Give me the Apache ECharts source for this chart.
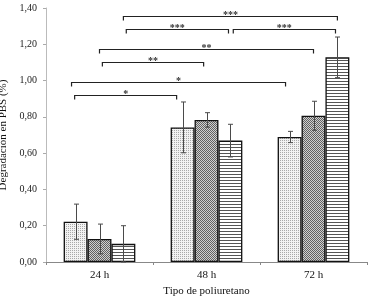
<!DOCTYPE html>
<html>
<head>
<meta charset="utf-8">
<script src="https://cdn.jsdelivr.net/npm/echarts@6/dist/echarts.min.js"></script>
<style>
html, body { margin: 0; padding: 0; background: #fff; }
#container { width: 371px; height: 300px; }
</style>
</head>
<body>
<div id="container"></div>
<script>
// datos
var categories = ['24 h', '48 h', '72 h'];
var serieA = [0.222, 0.742, 0.689];
var errA = [0.097, 0.140, 0.031];
var serieB = [0.127, 0.783, 0.806];
var errB = [0.082, 0.040, 0.080];
var serieC = [0.100, 0.669, 1.128];
var errC = [0.100, 0.090, 0.112];
var yTicks = { min: 0, max: 1.4, interval: 0.2 };
// corchetes de significancia: [catA, barraA, catB, barraB, nivel, etiqueta]
var bracketFrom = [[0, -0.04], [0, -0.17], [0, 1.12], [0, 1.0], [0, 2.12], [1, 2.12], [0, 2.0]];
var bracketTo = [[1, -0.25], [2, -0.17], [1, 0.88], [2, 1.0], [1, 1.92], [2, 1.92], [2, 2.0]];
var bracketLevel = [0.921, 0.994, 1.101, 1.173, 1.283, 1.283, 1.358];
var bracketLabel = ['*', '*', '**', '**', '***', '***', '***'];

var CAT_GAP = 0.33;
var FONT = '"Liberation Serif", "DejaVu Serif", serif';

function makePattern(w, h, draw) {
    var c = document.createElement('canvas');
    c.width = w; c.height = h;
    var ctx = c.getContext('2d');
    draw(ctx);
    return { image: c, repeat: 'repeat' };
}

// punteado claro
var patA = makePattern(2, 2, function(ctx) {
    ctx.fillStyle = '#f2f2f2'; ctx.fillRect(0, 0, 2, 2);
    ctx.fillStyle = '#a8a8a8'; ctx.fillRect(0, 0, 1, 1);
});
// tramado gris
var patB = makePattern(2, 2, function(ctx) {
    ctx.fillStyle = '#d0d0d0'; ctx.fillRect(0, 0, 2, 2);
    ctx.fillStyle = '#626262'; ctx.fillRect(0, 0, 1, 1); ctx.fillRect(1, 1, 1, 1);
});
// lineas horizontales
var patC = makePattern(4, 3, function(ctx) {
    ctx.fillStyle = '#ffffff'; ctx.fillRect(0, 0, 4, 3);
    ctx.fillStyle = '#555555'; ctx.fillRect(0, 0, 4, 1);
});

function barWidthPx(api) {
    return api.size([1, 0])[0] * (1 - CAT_GAP) / 3;
}

function slotX(api, cat, slot, y) {
    var bw = barWidthPx(api);
    var c = api.coord([cat, y]);
    return [c[0] - 1.5 * bw + (slot + 0.5) * bw, c[1]];
}

function errorSeries(values, errs, slot) {
    var data = values.map(function(v, i) { return [i, v, errs[i]]; });
    return {
        type: 'custom',
        z: 5,
        silent: true,
        data: data,
        encode: { x: 0, y: 1 },
        renderItem: function(params, api) {
            var cat = api.value(0), v = api.value(1), e = api.value(2);
            var top = slotX(api, cat, slot, v + e);
            var bot = slotX(api, cat, slot, Math.max(v - e, 0));
            var x = Math.round(top[0]) + 0.5;
            var s = { stroke: '#4a4a4a', lineWidth: 1 };
            return {
                type: 'group',
                children: [
                    { type: 'line', shape: { x1: x, y1: top[1], x2: x, y2: bot[1] }, style: s },
                    { type: 'line', shape: { x1: x - 2.5, y1: top[1], x2: x + 2.5, y2: top[1] }, style: s },
                    { type: 'line', shape: { x1: x - 2.5, y1: bot[1], x2: x + 2.5, y2: bot[1] }, style: s }
                ]
            };
        }
    };
}

var bracketData = bracketLevel.map(function(lv, i) {
    return [bracketFrom[i][0], lv, bracketFrom[i][1], bracketTo[i][0], bracketTo[i][1], i];
});

var bracketSeries = {
    type: 'custom',
    z: 6,
    silent: true,
    data: bracketData,
    encode: { x: 0, y: 1 },
    renderItem: function(params, api) {
        var lv = api.value(1);
        var a = slotX(api, api.value(0), api.value(2), lv);
        var b = slotX(api, api.value(3), api.value(4), lv);
        var y = Math.round(a[1]) + 0.5;
        var label = bracketLabel[api.value(5)];
        return {
            type: 'group',
            children: [
                {
                    type: 'polyline',
                    shape: { points: [[a[0], y + 4], [a[0], y], [b[0], y], [b[0], y + 4]] },
                    style: { stroke: '#222', lineWidth: 1.2, fill: null }
                },
                {
                    type: 'text',
                    style: {
                        text: label, x: (a[0] + b[0]) / 2, y: y + 3.5,
                        align: 'center', verticalAlign: 'bottom',
                        font: 'bold 10px ' + FONT, fill: '#333'
                    }
                }
            ]
        };
    }
};

function barSeries(values, pattern) {
    return {
        type: 'bar',
        data: values,
        barGap: '0%',
        barCategoryGap: (CAT_GAP * 100) + '%',
        itemStyle: { color: pattern, borderColor: '#111', borderWidth: 1.3 }
    };
}

var dom = document.getElementById('container');
var myChart = echarts.init(dom);
var option = {
    animation: false,
    grid: { left: 46, right: 4, top: 8, bottom: 38, containLabel: false, outerBoundsMode: 'none' },
    xAxis: {
        type: 'category',
        data: categories,
        name: 'Tipo de poliuretano',
        nameLocation: 'middle',
        nameGap: 23,
        nameTextStyle: { fontFamily: FONT, fontSize: 11, color: '#111' },
        axisLine: { lineStyle: { color: '#888', width: 1 } },
        axisTick: { show: true, length: 3, lineStyle: { color: '#888' } },
        axisLabel: { fontFamily: FONT, fontSize: 11, color: '#111', margin: 8 }
    },
    yAxis: {
        type: 'value',
        min: yTicks.min,
        max: yTicks.max,
        interval: yTicks.interval,
        name: 'Degradación en PBS (%)',
        nameLocation: 'middle',
        nameGap: 37,
        nameTextStyle: { fontFamily: FONT, fontSize: 11, color: '#111' },
        axisLine: { show: true, lineStyle: { color: '#bbb' } },
        axisTick: { show: true, length: 3, lineStyle: { color: '#aaa' } },
        splitLine: { show: false },
        axisLabel: {
            fontFamily: FONT, fontSize: 10, color: '#222', margin: 9,
            formatter: function(v) { return v.toFixed(2).replace('.', ','); }
        }
    },
    series: [
        barSeries(serieA, patA),
        barSeries(serieB, patB),
        barSeries(serieC, patC),
        errorSeries(serieA, errA, 0),
        errorSeries(serieB, errB, 1),
        errorSeries(serieC, errC, 2),
        bracketSeries
    ]
};
myChart.setOption(option, true);
</script>
</body>
</html>
